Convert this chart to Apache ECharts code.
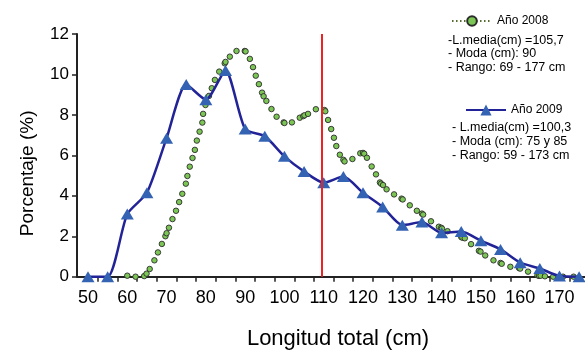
<!DOCTYPE html>
<html><head><meta charset="utf-8">
<script src="https://cdn.jsdelivr.net/npm/echarts@6/dist/echarts.min.js"></script>
<style>html,body{margin:0;padding:0;background:#fff}#c{width:585px;height:356px}</style>
</head><body><div id="c"></div>
<script>
// ---- data ----
const lengths2009 = [50,55,60,65,70,75,80,85,90,95,100,105,110,115,120,125,130,135,140,145,150,155,160,165,170,175];
const pct2009 = [0,0,3.1,4.15,6.85,9.5,8.75,10.2,7.3,6.95,5.95,5.2,4.65,4.95,4.15,3.45,2.55,2.7,2.17,2.23,1.78,1.35,0.69,0.41,0.03,0];

const lengths2008 = [60.0,62.1,64.3,64.9,65.7,66.9,67.8,68.8,69.7,70.0,70.6,71.5,72.4,73.2,74.0,74.9,75.3,75.9,76.6,77.2,77.7,78.4,79.1,79.3,79.9,80.1,80.8,81.5,82.3,83.4,84.8,85.0,86.1,87.8,89.9,90.1,91.2,92.0,92.7,93.5,94.3,94.7,95.4,96.7,98.0,99.8,100.0,101.9,103.9,104.8,105.1,106.0,108.0,110.2,110.4,111.1,111.9,112.6,113.2,114.1,115.0,115.3,117.3,119.3,120.0,120.3,121.0,122.2,123.3,124.3,124.6,125.1,126.0,127.9,129.8,130.1,131.9,133.7,135.0,135.3,137.3,139.3,139.9,140.1,141.5,145.0,145.3,145.9,147.5,149.5,149.9,151.1,153.2,155.0,155.3,157.5,159.7,160.0,162.0,164.4,164.8,165.2,166.3,168.4,170.9,173.6];
const pct2008 = [0.05,0,0.03,0.15,0.38,0.81,1.2,1.62,2.0,2.15,2.42,2.85,3.26,3.69,4.1,4.6,4.98,5.44,5.87,6.27,6.73,7.17,7.62,8.05,8.49,8.65,8.94,9.32,9.73,10.14,10.55,10.62,10.88,11.16,11.16,11.14,10.77,10.36,9.94,9.52,9.1,8.92,8.69,8.29,7.91,7.63,7.6,7.63,7.86,7.94,7.98,8.05,8.28,8.24,8.18,7.75,7.3,6.87,6.46,6.03,5.78,5.7,5.82,6.1,6.12,6.08,5.88,5.45,5.06,4.66,4.6,4.53,4.32,4.07,3.86,3.82,3.53,3.26,3.12,3.07,2.74,2.47,2.42,2.38,2.25,1.96,1.93,1.9,1.61,1.28,1.24,1.05,0.81,0.68,0.64,0.49,0.43,0.4,0.25,0.07,0.04,0.05,0.02,0,0,0];

const xTickLabels = [50,60,70,80,90,100,110,120,130,140,150,160,170];
const xTickMarks = [52.5,57.5,62.5,67.5,72.5,77.5,82.5,87.5,92.5,97.5,102.5,107.5,112.5,117.5,122.5,127.5,132.5,137.5,142.5,147.5,152.5,157.5,162.5,167.5,172.5];
const refLineX = 109.5;

const series2008Name = 'Año 2008';
const series2009Name = 'Año 2009';
const stats2008 = ['-L.media(cm) =105,7', '- Moda (cm): 90', '- Rango: 69 - 177 cm'];
const stats2009 = ['- L.media(cm) =100,3', '- Moda (cm): 75 y 85', '- Rango: 59 - 173 cm'];

// ---- chart ----
const FONT = '"Liberation Sans", Arial, sans-serif';
const chart = echarts.init(document.getElementById('c'), null, {renderer: 'canvas'});
const pairs = (xs, ys) => xs.map((x, i) => [x, ys[i]]);

function statTexts(lines, left, top0, step) {
  return lines.map((t, i) => ({
    type: 'text', left: left, top: top0 + i * step,
    style: {text: t, font: '12.5px ' + FONT, fill: '#000'}
  }));
}

chart.setOption({
  animation: false,
  backgroundColor: '#fff',
  textStyle: {fontFamily: FONT},
  grid: {left: 77, top: 34, right: 0, bottom: 79.3},
  xAxis: {
    type: 'value', min: 47.2, max: 176.5,
    name: 'Longitud total (cm)', nameLocation: 'middle', nameGap: 51,
    nameTextStyle: {fontSize: 22, color: '#000', fontFamily: FONT, padding: [0, 0, 0, 14]},
    axisLine: {show: true, onZero: false, lineStyle: {color: '#222', width: 2}},
    axisTick: {show: true, length: 5, customValues: xTickMarks, lineStyle: {color: '#222', width: 1.5}},
    axisLabel: {customValues: xTickLabels, fontSize: 18, color: '#000', margin: 12, fontFamily: FONT},
    splitLine: {show: false}
  },
  yAxis: {
    type: 'value', min: 0, max: 12, interval: 2,
    name: 'Porcentaje (%)', nameLocation: 'middle', nameGap: 40,
    nameTextStyle: {fontSize: 19, color: '#000', fontFamily: FONT, padding: [0, 36, 0, 0]},
    axisLine: {show: true, lineStyle: {color: '#222', width: 2}},
    axisTick: {show: true, length: 5, lineStyle: {color: '#222', width: 1.5}},
    axisLabel: {fontSize: 17, color: '#000', margin: 8, fontFamily: FONT},
    splitLine: {show: false}
  },
  legend: [
    {data: [series2008Name], left: 446, top: 10, itemWidth: 40, itemHeight: 12, itemGap: 5,
     selectedMode: false, textStyle: {fontSize: 12, color: '#000', fontFamily: FONT},
     lineStyle: {width: 2, type: [1.5, 2.5], color: '#556b2f', opacity: 1}},
    {data: [series2009Name], left: 460, top: 99, itemWidth: 40, itemHeight: 14, itemGap: 5,
     selectedMode: false, textStyle: {fontSize: 12, color: '#000', fontFamily: FONT}}
  ],
  graphic: [
    ...statTexts(stats2008, 448, 34, 13.4),
    ...statTexts(stats2009, 452, 121, 14)
  ],
  series: [
    {
      name: series2008Name, type: 'line', data: pairs(lengths2008, pct2008),
      symbol: 'circle', symbolSize: 5.5, showSymbol: true, showAllSymbol: true,
      lineStyle: {width: 0}, itemStyle: {color: '#7cc655', borderColor: '#2b2b2b', borderWidth: 0.9},
      emphasis: {disabled: true}, z: 2
    },
    {
      name: series2009Name, type: 'line', data: pairs(lengths2009, pct2009),
      smooth: 0.22, symbol: 'triangle', symbolSize: [13, 11],
      lineStyle: {color: '#232398', width: 2.5}, itemStyle: {color: '#3463b3'},
      emphasis: {disabled: true}, z: 3
    },
    {
      name: 'ref', type: 'line', data: [], z: 5,
      markLine: {silent: true, symbol: 'none', label: {show: false},
        lineStyle: {color: '#ee2222', width: 2, type: 'solid'},
        data: [{xAxis: refLineX}]}
    }
  ]
});
</script></body></html>
